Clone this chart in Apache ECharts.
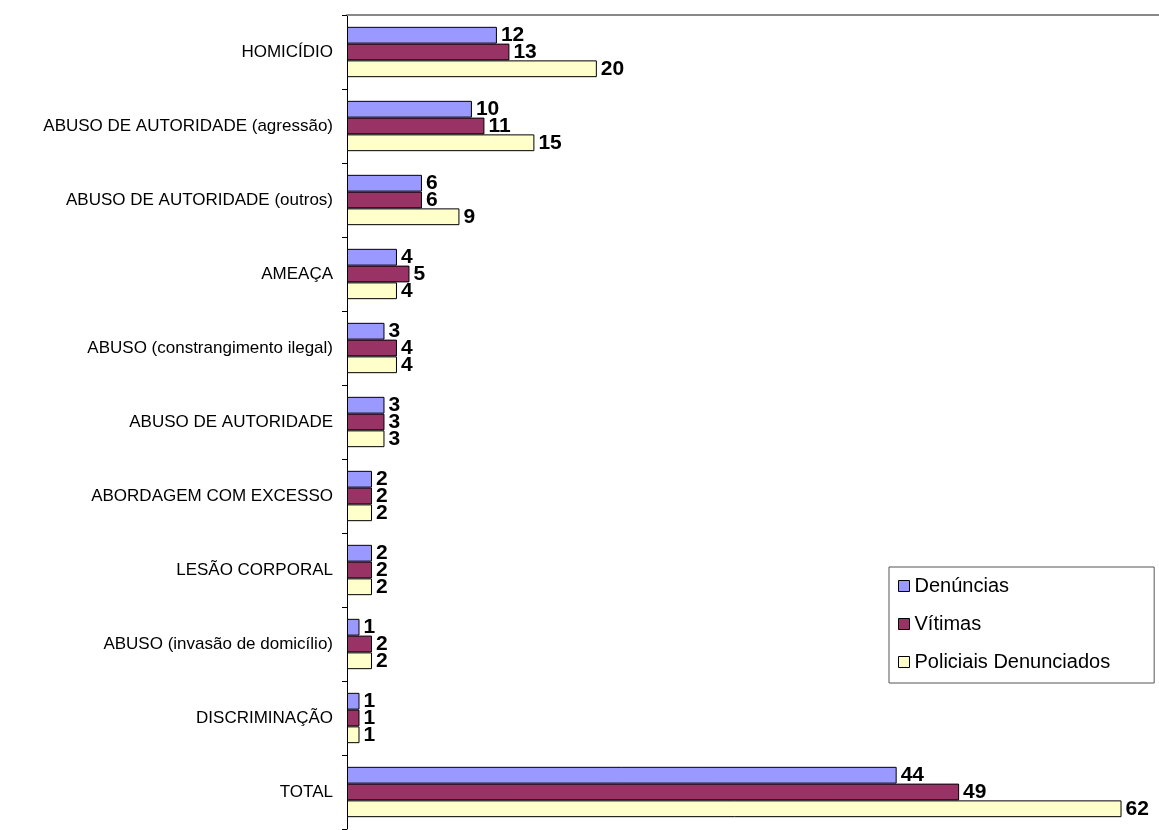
<!DOCTYPE html>
<html>
<head>
<meta charset="utf-8">
<script src="https://cdn.jsdelivr.net/npm/echarts@6/dist/echarts.min.js"></script>
<style>
  html, body { margin: 0; padding: 0; background: #fff; }
  #chart { width: 1159px; height: 830px; }
</style>
</head>
<body>
<div id="chart"></div>
<script>
const categories = [
  "HOMICÍDIO",
  "ABUSO DE AUTORIDADE (agressão)",
  "ABUSO DE AUTORIDADE (outros)",
  "AMEAÇA",
  "ABUSO (constrangimento ilegal)",
  "ABUSO DE AUTORIDADE",
  "ABORDAGEM COM EXCESSO",
  "LESÃO CORPORAL",
  "ABUSO (invasão de domicílio)",
  "DISCRIMINAÇÃO",
  "TOTAL",
];
const denuncias = [12, 10, 6, 4, 3, 3, 2, 2, 1, 1, 44];
const vitimas = [13, 11, 6, 5, 4, 3, 2, 2, 2, 1, 49];
const policiais = [20, 15, 9, 4, 4, 3, 2, 2, 2, 1, 62];

const seriesDefs = [
  { name: "Denúncias", color: "#9999ff", data: denuncias },
  { name: "Vítimas", color: "#993366", data: vitimas },
  { name: "Policiais Denunciados", color: "#ffffcc", data: policiais },
];

var myChart = echarts.init(document.getElementById("chart"));

var option = {
  animation: false,
  textStyle: { fontFamily: "Liberation Sans, Arial, sans-serif" },
  grid: {
    left: 347,
    right: 0,
    top: 15,
    bottom: 1,
  },
  xAxis: {
    type: "value",
    position: "top",
    min: 0,
    max: 65,
    axisLine: { show: true, lineStyle: { color: "#888", width: 2 } },
    axisTick: { show: false },
    axisLabel: { show: false },
    splitLine: { show: false },
  },
  yAxis: {
    type: "category",
    inverse: true,
    data: categories,
    axisLine: { show: true, lineStyle: { color: "#000", width: 1 } },
    axisTick: { show: true, length: 5, lineStyle: { color: "#000" } },
    axisLabel: {
      color: "#000",
      fontSize: 17,
      margin: 14,
    },
  },
  legend: {
    orient: "vertical",
    left: 889,
    top: 567,
    itemWidth: 11,
    itemHeight: 11,
    itemGap: 18,
    padding: [9, 44, 11, 9],
    borderColor: "#555",
    borderWidth: 1,
    icon: "rect",
    textStyle: { fontSize: 20, color: "#000" },
    data: seriesDefs.map((s) => ({
      name: s.name,
      itemStyle: { color: s.color, borderColor: "#000", borderWidth: 1 },
    })),
  },
  series: seriesDefs.map((s) => ({
    name: s.name,
    type: "bar",
    data: s.data,
    barGap: "0%",
    barCategoryGap: "32%",
    itemStyle: { color: s.color, borderColor: "#000", borderWidth: 1 },
    label: {
      show: true,
      position: "right",
      distance: 4,
      color: "#000",
      fontSize: 21,
      fontWeight: "bold",
    },
  })),
};

option && myChart.setOption(option);
</script>
</body>
</html>
